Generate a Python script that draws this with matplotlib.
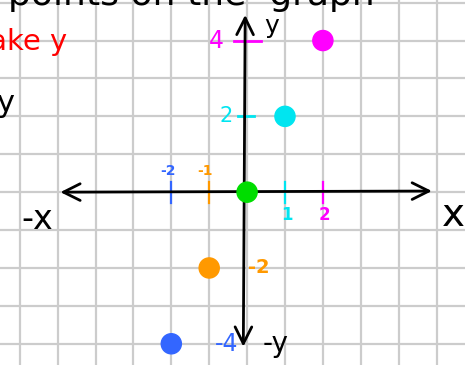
import matplotlib
matplotlib.use("Agg")
from matplotlib import pyplot as plt

# points of y = 2x, one colour each
xs = [-2, -1, 0, 1, 2]
ys = [-4, -2, 0, 2, 4]
colors = ["#3366ff", "#ff9900", "#00dd00", "#00e5f0", "#ff00ff"]

x_tick_vals = [-2, -1, 1, 2]
x_tick_labels = ["-2", "-1", "1", "2"]
x_tick_colors = ["#3366ff", "#ff9900", "#00e5f0", "#ff00ff"]

y_tick_vals = [4, 2, -2, -4]
y_tick_labels = ["4", "2", "-2", "-4"]
y_tick_colors = ["#ff00ff", "#00e5f0", "#ff9900", "#3366ff"]

fig = plt.figure(figsize=(4.65, 3.65), dpi=100)
ax = fig.add_axes([0, 0, 1, 1])
ax.set_xlim(-6.52, 5.75)
ax.set_ylim(-4.56, 5.07)

# graph paper
ax.set_xticks(range(-6, 6))
ax.set_yticks(range(-4, 6))
ax.tick_params(length=0, labelbottom=False, labelleft=False)
ax.grid(color="#cccccc", linewidth=1.6)
for s in ax.spines.values():
    s.set_visible(False)

# axes with arrows
arrow = dict(arrowstyle="<->", color="black", lw=2, mutation_scale=30)
ax.annotate("", xy=(4.95, 0.03), xytext=(-5.0, 0.0), arrowprops=arrow)
ax.annotate("", xy=(-0.05, 4.75), xytext=(-0.1, -4.15), arrowprops=arrow)

ax.text(-5.55, -0.72, "-x", fontsize=24, ha="center", va="center")
ax.text(5.45, -0.6, "x", fontsize=28, ha="center", va="center")
ax.text(0.65, 4.38, "y", fontsize=18, ha="center", va="center")
ax.text(0.75, -4.0, "-y", fontsize=20, ha="center", va="center")

# x tick marks
for v, lab, c in zip(x_tick_vals, x_tick_labels, x_tick_colors):
    ax.plot([v, v], [-0.28, 0.28], color=c, lw=1.6)
    if v < 0:
        ax.text(v - 0.1, 0.55, lab, color=c, fontsize=10, fontweight="bold",
                ha="center", va="center")
    else:
        ax.text(v + 0.05, -0.6, lab, color=c, fontsize=12, fontweight="bold",
                ha="center", va="center")

# y tick marks
for v, lab, c in zip(y_tick_vals, y_tick_labels, y_tick_colors):
    if v == 4:
        ax.plot([-0.35, 0.37], [v, v], color=c, lw=2)
        ax.text(-0.8, v, lab, color=c, fontsize=17, ha="center", va="center")
    elif v == 2:
        ax.plot([-0.23, 0.18], [v, v], color=c, lw=2)
        ax.text(-0.55, v, lab, color=c, fontsize=15, ha="center", va="center")
    elif v == -2:
        ax.text(0.3, v, lab, color=c, fontsize=14, fontweight="bold",
                ha="center", va="center")
    else:
        ax.text(-0.55, v, lab, color=c, fontsize=17, ha="center", va="center")

ax.scatter(xs, ys, s=210, c=colors, zorder=5)

# leftover handwriting cut by the page edge
ax.text(-4.75, 3.95, "Make y", color="red", fontsize=21, ha="right", va="center")
ax.text(-6.15, 2.35, "y", fontsize=22, ha="right", va="center")
ax.text(-6.3, 4.93, "points on the  graph", fontsize=26, ha="left",
        va="baseline")

fig.savefig("out.png", dpi=100)
